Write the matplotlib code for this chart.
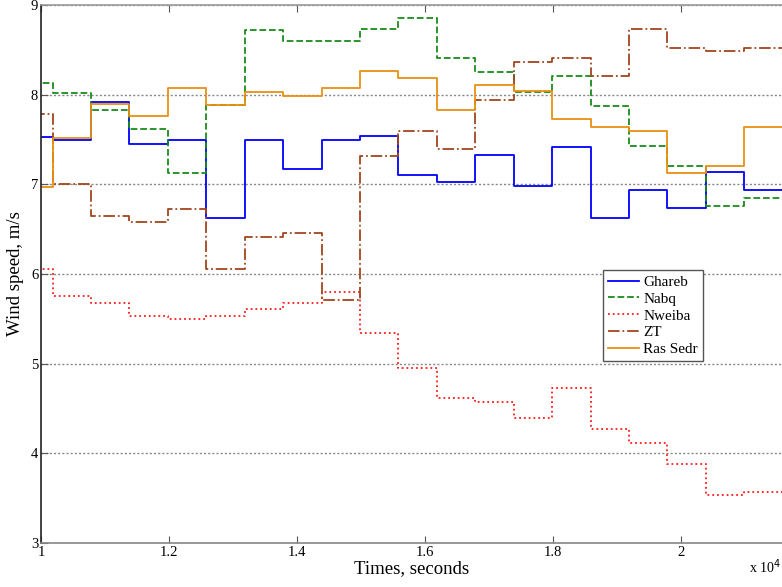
import matplotlib
matplotlib.use('Agg')
import matplotlib.pyplot as plt
import numpy as np

plt.rcParams['font.family'] = ['Liberation Serif', 'DejaVu Serif']

# step edges in units of 10^4 seconds (600 s per step)
t = [0.958, 1.018, 1.078, 1.138, 1.198, 1.258, 1.318, 1.378, 1.438, 1.498,
     1.558, 1.618, 1.678, 1.738, 1.798, 1.858, 1.918, 1.978, 2.038, 2.098, 2.158]

ghareb = [7.53, 7.49, 7.92, 7.45, 7.49, 6.63, 7.49, 7.17, 7.49, 7.535,
          7.10, 7.025, 7.33, 6.98, 7.42, 6.63, 6.94, 6.74, 7.14, 6.94]
nabq = [8.13, 8.02, 7.83, 7.62, 7.125, 7.89, 8.72, 8.60, 8.60, 8.73,
        8.85, 8.41, 8.25, 8.03, 8.21, 7.87, 7.43, 7.20, 6.76, 6.85]
nweiba = [6.06, 5.76, 5.675, 5.535, 5.495, 5.535, 5.61, 5.675, 5.80, 5.34,
          4.955, 4.615, 4.575, 4.39, 4.73, 4.27, 4.11, 3.885, 3.535, 3.57]
zt = [7.78, 7.00, 6.645, 6.575, 6.73, 6.06, 6.41, 6.455, 5.715, 7.315,
      7.595, 7.39, 7.94, 8.365, 8.41, 8.21, 8.73, 8.52, 8.49, 8.52]
ras_sedr = [6.97, 7.52, 7.90, 7.76, 8.07, 7.88, 8.03, 7.99, 8.07, 8.265,
            8.19, 7.83, 8.11, 8.04, 7.73, 7.64, 7.60, 7.13, 7.21, 7.64]

names = ['Ghareb', 'Nabq', 'Nweiba', 'ZT', 'Ras Sedr']
series = [ghareb, nabq, nweiba, zt, ras_sedr]
colors = ['#0000ff', '#1a8c1a', '#ff1a1a', '#a0461e', '#e8900f']
styles = ['-', '--', ':', '-.', '-']

fig = plt.figure(figsize=(7.82, 5.87), dpi=100)
ax = fig.add_axes([41 / 782, 44 / 587, 741 / 782, 538 / 587])

for name, vals, c, ls in zip(names, series, colors, styles):
    ax.step(t, vals + [vals[-1]], where='post', color=c, linestyle=ls,
            linewidth=1.3, label=name)

ax.set_xlim(1, 2.157)
ax.set_ylim(3, 9)
ax.set_xticks([1, 1.2, 1.4, 1.6, 1.8, 2])
ax.set_xticklabels(['1', '1.2', '1.4', '1.6', '1.8', '2'])
ax.set_yticks([3, 4, 5, 6, 7, 8, 9])

# MATLAB-ish grid: dotted horizontal lines only
ax.yaxis.grid(True, linestyle=(0, (1.5, 1.5)), color='#888888', linewidth=1.0)
ax.tick_params(direction='in', top=True, length=5, labelsize=10.5,
               color='#555555', pad=2)
ax.spines['right'].set_visible(False)
ax.spines['top'].set_color('#999999')
ax.spines['bottom'].set_color('#888888')
ax.spines['left'].set_color('#222222')
for s in ax.spines.values():
    s.set_linewidth(1.2)

ax.set_xlabel('Times, seconds', fontsize=13.5, labelpad=1)
ax.set_ylabel('Wind speed, m/s', fontsize=13.5, labelpad=5)
fig.text(0.958, 0.018, r'x 10$^4$', fontsize=10, ha='left', va='bottom')

leg = ax.legend(loc='upper left', bbox_to_anchor=(562 / 741, 1 - 265 / 538),
                fontsize=11, frameon=True, fancybox=False, framealpha=1,
                handlelength=2.0, handletextpad=0.3, labelspacing=0.2,
                borderpad=0.35, borderaxespad=0)
leg.get_frame().set_edgecolor('#555555')
leg.get_frame().set_linewidth(1.0)

fig.savefig('out.png', dpi=100)
